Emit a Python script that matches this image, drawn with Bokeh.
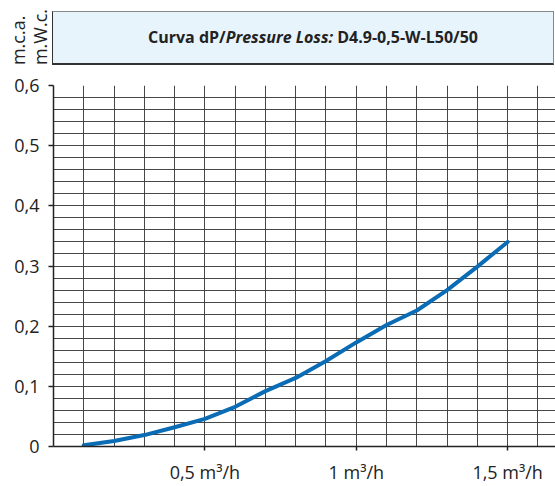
from bokeh.plotting import figure
from bokeh.models import FixedTicker, Div, Range1d
from bokeh.layouts import column, row
from bokeh.embed import file_html
from bokeh.resources import INLINE

# ---- data ----
flow = [0.1, 0.2, 0.3, 0.4, 0.5, 0.6, 0.7, 0.8, 0.9, 1.0, 1.1, 1.2, 1.3, 1.4, 1.5]
dp = [0.002, 0.009, 0.019, 0.032, 0.046, 0.066, 0.092, 0.114, 0.142, 0.173,
      0.202, 0.226, 0.260, 0.299, 0.340]

x_ticks = [0.5, 1.0, 1.5]
x_tick_labels = ["0,5 m³/h", "1 m³/h", "1,5 m³/h"]
y_ticks = [0, 0.1, 0.2, 0.3, 0.4, 0.5, 0.6]
y_tick_labels = ["0", "0,1", "0,2", "0,3", "0,4", "0,5", "0,6"]
x_grid = [0.1, 0.2, 0.3, 0.4, 0.5, 0.6, 0.7, 0.8, 0.9, 1.0, 1.1, 1.2, 1.3, 1.4, 1.5, 1.6]
y_grid = [0.02, 0.04, 0.06, 0.08, 0.1, 0.12, 0.14, 0.16, 0.18, 0.2, 0.22, 0.24, 0.26, 0.28,
          0.3, 0.32, 0.34, 0.36, 0.38, 0.4, 0.42, 0.44, 0.46, 0.48, 0.5, 0.52, 0.54, 0.56,
          0.58, 0.6]

title_a = "Curva dP/"
title_b = "Pressure Loss:"
title_c = " D4.9-0,5-W-L50/50"
unit_a = "m.c.a."
unit_b = "m.W.c."

FONT = "Open Sans"

p = figure(width=555, height=413, x_range=Range1d(0, 1.658), y_range=Range1d(0, 0.6),
           output_backend="svg", toolbar_location=None,
           min_border_left=53, min_border_right=0, min_border_top=12, min_border_bottom=39)
p.outline_line_color = None
p.background_fill_color = "white"
p.border_fill_color = "white"

p.xgrid.ticker = FixedTicker(ticks=x_grid)
p.ygrid.ticker = FixedTicker(ticks=y_grid)
for g in (p.xgrid, p.ygrid):
    g.grid_line_color = "#333333"
    g.grid_line_width = 1
    g.grid_line_alpha = 0.9

p.xaxis.ticker = FixedTicker(ticks=x_ticks)
p.xaxis.major_label_overrides = {t: l for t, l in zip(x_ticks, x_tick_labels)}
p.yaxis.ticker = FixedTicker(ticks=y_ticks)
p.yaxis.major_label_overrides = {t: l for t, l in zip(y_ticks, y_tick_labels)}
for ax in (p.xaxis, p.yaxis):
    ax.axis_line_color = "#222222"
    ax.axis_line_width = 1.5
    ax.major_tick_line_color = "#222222"
    ax.major_tick_line_width = 1.5
    ax.major_tick_in = 0
    ax.minor_tick_line_color = None
    ax.major_label_text_font = FONT
    ax.major_label_text_font_size = "18px"
    ax.major_label_text_color = "#222222"
p.xaxis.major_tick_out = 4
p.xaxis.major_label_standoff = 9
p.yaxis.major_tick_out = 5
p.yaxis.major_label_standoff = 9

p.line(flow, dp, line_color="#0a6cb5", line_width=4, line_join="round", line_cap="round")

rot = Div(text=(
    f'<div style="width:52px;height:73px;position:relative;">'
    f'<div style="position:absolute;left:7px;bottom:8px;writing-mode:vertical-rl;'
    f'transform:rotate(180deg);font-family:\'{FONT}\';font-size:18px;line-height:22px;'
    f'color:#222;white-space:nowrap;">{unit_a}<br>{unit_b}</div></div>'),
    width=52, height=73, margin=(0, 0, 0, 0))

head = Div(text=(
    f'<div style="box-sizing:border-box;margin-top:11px;width:502px;height:54px;'
    f'background:#e8f4fc;border:1px solid #888;border-left:1px solid #333;'
    f'border-bottom:2px solid #333;display:flex;align-items:center;justify-content:flex-start;'
    f'padding-left:95px;font-family:\'{FONT}\';font-weight:bold;font-size:16px;color:#222;'
    f'white-space:nowrap;">'
    f'<span>{title_a}<i>{title_b}</i>{title_c}</span></div>'),
    width=503, height=73, margin=(0, 0, 0, 0))

layout = column(row(rot, head, spacing=0), p, spacing=0)

open("out.html", "w").write(file_html(layout, INLINE))
